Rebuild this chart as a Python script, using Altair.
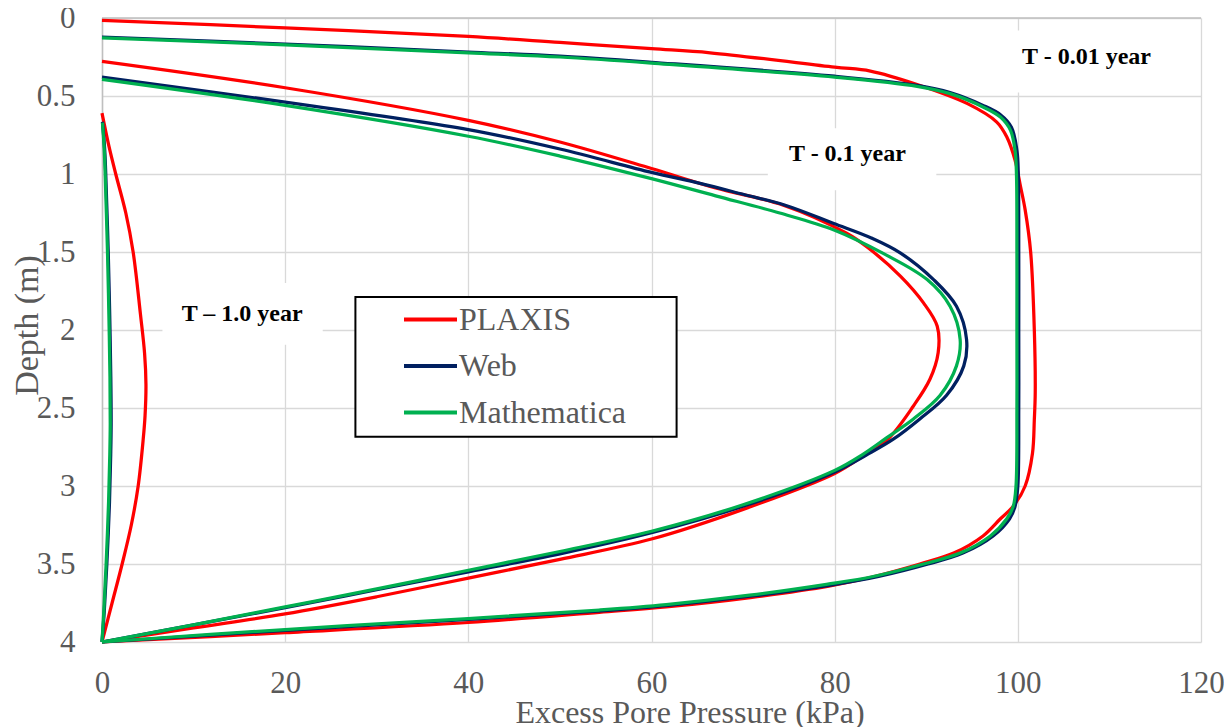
import altair as alt
import pandas as pd

SOURCES = ["PLAXIS", "Web", "Mathematica"]
COLORS = ["#FF0000", "#002060", "#00B050"]
X_TICKS = [0, 20, 40, 60, 80, 100, 120]
Y_TICKS = [0, 0.5, 1, 1.5, 2, 2.5, 3, 3.5, 4]

# ---- T = 0.01 year ----
plaxis_t001_u = [0, 20, 40, 50, 60, 66.4, 80, 83.9, 89, 94.5, 97.7, 98.8, 99.7, 100.3, 100.8, 101.4, 101.8,
                 101.9, 101.8, 101.6, 100.8, 99.5, 98.1, 96.2, 93.0, 89.3, 84.0, 79.5, 70.8, 61.6, 54.3, 40, 20, 0]
plaxis_t001_z = [0.015, 0.063, 0.118, 0.157, 0.197, 0.223, 0.315, 0.34, 0.426, 0.549, 0.667, 0.763, 0.912, 1.082,
                 1.23, 1.5, 2.0, 2.4, 2.575, 2.79, 3.0, 3.13, 3.21, 3.32, 3.43, 3.5, 3.585, 3.64, 3.715, 3.775,
                 3.81, 3.875, 3.94, 4.0]
web_t001_u = [0, 20, 40, 50, 60, 80, 89, 92.6, 96.2, 98.1, 99.3, 99.9, 100.05, 100.1, 100.1, 100.1, 100.0, 99.7,
              99.1, 97.3, 94.0, 90.2, 84.8, 79.6, 71.0, 61.8, 54.5, 40, 20, 0]
web_t001_z = [0.122, 0.167, 0.218, 0.245, 0.284, 0.373, 0.432, 0.478, 0.56, 0.62, 0.7, 0.85, 1.0, 1.5, 2.0, 2.5,
              3.0, 3.13, 3.21, 3.32, 3.43, 3.5, 3.58, 3.635, 3.705, 3.765, 3.80, 3.855, 3.925, 4.0]
math_t001_u = [0, 20, 40, 50, 60, 80, 89, 92.6, 96.2, 98.1, 99.2, 99.7, 99.85, 99.9, 99.9, 99.9, 99.8, 99.5,
               98.8, 97.0, 93.7, 89.7, 84.2, 79.1, 70.7, 61.6, 54.3, 40, 20, 0]
math_t001_z = [0.127, 0.172, 0.223, 0.25, 0.289, 0.379, 0.438, 0.485, 0.57, 0.635, 0.72, 0.85, 1.0, 1.5, 2.0, 2.5,
               3.0, 3.13, 3.21, 3.32, 3.43, 3.5, 3.58, 3.63, 3.70, 3.76, 3.795, 3.85, 3.92, 4.0]

# ---- T = 0.1 year ----
plaxis_t01_u = [0, 20, 40, 50, 60, 67, 74.4, 81.3, 83.5, 87.2, 89.7, 91.2, 91.3, 90.4, 88.6, 85.8, 83.3, 80, 70,
                60, 50, 40, 30, 20, 10, 0]
plaxis_t01_z = [0.278, 0.447, 0.656, 0.795, 0.965, 1.09, 1.20, 1.38, 1.466, 1.656, 1.826, 1.976, 2.146, 2.316,
                2.487, 2.70, 2.80, 2.92, 3.15, 3.34, 3.47, 3.59, 3.71, 3.82, 3.91, 4.0]
web_t01_u = [0, 20, 40, 50, 60, 65.3, 70, 74.6, 79.9, 84, 87.2, 90.8, 93.3, 94.4, 94.1, 92.2, 89.3, 86.4, 83.5,
             80, 70, 60, 50, 40, 30, 20, 10, 0]
web_t01_z = [0.379, 0.539, 0.715, 0.84, 0.99, 1.06, 1.13, 1.20, 1.317, 1.41, 1.507, 1.677, 1.848, 2.06, 2.23,
             2.42, 2.57, 2.70, 2.80, 2.91, 3.13, 3.30, 3.435, 3.55, 3.665, 3.78, 3.89, 4.0]
math_t01_u = [0, 20, 40, 50, 60, 67, 74, 80, 85.3, 90.1, 92.6, 93.7, 93.3, 91.5, 88.6, 85.7, 83.0, 80, 70, 60,
              50, 40, 30, 20, 10, 0]
math_t01_z = [0.393, 0.56, 0.758, 0.885, 1.03, 1.14, 1.25, 1.36, 1.509, 1.677, 1.848, 2.06, 2.23, 2.42, 2.57,
              2.69, 2.80, 2.90, 3.12, 3.29, 3.42, 3.54, 3.66, 3.775, 3.89, 4.0]

# ---- T = 1.0 year ----
plaxis_t1_u = [0, 0.75, 1.5, 2.6, 3.4, 4.2, 4.65, 4.8, 4.7, 4.5, 3.95, 3.2, 2.2, 1.1, 0]
plaxis_t1_z = [0.61, 0.82, 1.0, 1.25, 1.5, 1.9, 2.15, 2.35, 2.55, 2.7, 3.0, 3.25, 3.5, 3.75, 4.0]
web_t1_u = [0.05, 0.3, 0.52, 0.68, 0.84, 0.96, 1.0, 0.95, 0.82, 0.53, 0.25, 0]
web_t1_z = [0.665, 0.85, 1.2, 1.5, 1.9, 2.3, 2.6, 2.8, 3.1, 3.5, 3.8, 4.0]
math_t1_u = [0.05, 0.25, 0.45, 0.6, 0.75, 0.87, 0.9, 0.85, 0.72, 0.45, 0.2, 0]
math_t1_z = [0.67, 0.85, 1.2, 1.5, 1.9, 2.3, 2.6, 2.8, 3.1, 3.5, 3.8, 4.0]

# annotations
ann_text = ["T - 0.01 year", "T - 0.1 year", "T \u2013 1.0 year"]
ann_u = [107.5, 81.4, 15.3]
ann_z = [0.248, 0.869, 1.897]
ann_box_u1 = [98.3, 72.7, 6.6]
ann_box_u2 = [116.8, 91.1, 24.1]
ann_box_z1 = [0.08, 0.707, 1.699]
ann_box_z2 = [0.477, 1.104, 2.095]
legend_box = {"u1": [27.67], "u2": [62.74], "z1": [1.788], "z2": [2.684]}

curves = [
    ("PLAXIS", "0.01", plaxis_t001_u, plaxis_t001_z),
    ("PLAXIS", "0.1", plaxis_t01_u, plaxis_t01_z),
    ("PLAXIS", "1.0", plaxis_t1_u, plaxis_t1_z),
    ("Web", "0.01", web_t001_u, web_t001_z),
    ("Web", "0.1", web_t01_u, web_t01_z),
    ("Web", "1.0", web_t1_u, web_t1_z),
    ("Mathematica", "0.01", math_t001_u, math_t001_z),
    ("Mathematica", "0.1", math_t01_u, math_t01_z),
    ("Mathematica", "1.0", math_t1_u, math_t1_z),
]
rows = []
for src, t, us, zs in curves:
    for i, (u, z) in enumerate(zip(us, zs)):
        rows.append({"source": src, "time": t, "i": i, "u": u, "z": z})
df = pd.DataFrame(rows)

ann_df = pd.DataFrame({"label": ann_text, "u": ann_u, "z": ann_z,
                       "u1": ann_box_u1, "u2": ann_box_u2, "z1": ann_box_z1, "z2": ann_box_z2})
leg_df = pd.DataFrame(legend_box)
top_df = pd.DataFrame({"z": [0]})

x_scale = alt.Scale(domain=[0, 120], nice=False, zero=False)
y_scale = alt.Scale(domain=[0, 4], reverse=True, nice=False, zero=False)
x_axis = alt.Axis(values=X_TICKS, title="Excess Pore Pressure (kPa)", grid=True, ticks=False, tickSize=0,
                  domain=False, labelPadding=26, labelFlush=False, titleX=587.5, titleY=80,
                  titleBaseline="alphabetic", titleAlign="center", titleFontSize=32)
y_axis = alt.Axis(values=Y_TICKS, format="~g", title="Depth (m)", grid=True, ticks=False, tickSize=0,
                  domain=True, domainColor="#BFBFBF", domainWidth=1.5, labelPadding=27, labelFlush=False,
                  titleX=-65, titleY=307, titleAngle=270, titleBaseline="alphabetic", titleAlign="center",
                  titleFontSize=34)

color = alt.Color("source:N", scale=alt.Scale(domain=SOURCES, range=COLORS),
                  legend=alt.Legend(title=None, orient="none", legendX=251, legendY=273, direction="vertical",
                                    symbolType="stroke", symbolSize=2809, symbolStrokeWidth=4, symbolOffset=49,
                                    labelOffset=0, labelFont="Liberation Serif", labelFontSize=32,
                                    labelColor="#595959", labelLimit=400, rowPadding=1.5, padding=0))

boxes = alt.Chart(ann_df).mark_rect(fill="white", strokeWidth=0).encode(
    x=alt.X("u1:Q", scale=x_scale, axis=x_axis), x2="u2:Q",
    y=alt.Y("z1:Q", scale=y_scale, axis=y_axis), y2="z2:Q")

top_rule = alt.Chart(top_df).mark_rule(color="#BFBFBF", strokeWidth=1.5).encode(
    y=alt.Y("z:Q", scale=y_scale, axis=y_axis))

leg_frame = alt.Chart(leg_df).mark_rect(fill="white", stroke="black", strokeWidth=2).encode(
    x=alt.X("u1:Q", scale=x_scale, axis=x_axis), x2="u2:Q",
    y=alt.Y("z1:Q", scale=y_scale, axis=y_axis), y2="z2:Q")

line_layers = []
for src in SOURCES:
    line_layers.append(
        alt.Chart(df).transform_filter(alt.datum.source == src)
        .mark_line(strokeWidth=3.25, interpolate="catmull-rom").encode(
            x=alt.X("u:Q", scale=x_scale, axis=x_axis),
            y=alt.Y("z:Q", scale=y_scale, axis=y_axis),
            color=color,
            detail="time:N",
            order="i:Q",
        )
    )

texts = alt.Chart(ann_df).mark_text(font="Liberation Serif", fontSize=24, fontWeight="bold", color="black",
                                    align="center", baseline="middle").encode(
    x=alt.X("u:Q", scale=x_scale, axis=x_axis),
    y=alt.Y("z:Q", scale=y_scale, axis=y_axis),
    text="label:N")

chart = alt.layer(boxes, top_rule, leg_frame, *line_layers, texts).properties(
    width=1099, height=624,
    autosize=alt.AutoSizeParams(type="none"),
    padding={"left": 94, "top": 10, "right": 23, "bottom": 85},
).configure_axis(
    labelFont="Liberation Serif", titleFont="Liberation Serif", labelFontSize=31,
    labelColor="#595959", titleColor="#595959", titleFontWeight="normal",
    gridColor="#D9D9D9", gridWidth=1.3,
).configure_view(strokeWidth=0)

chart.save("out.html", embed_options={"renderer": "svg", "actions": False})
